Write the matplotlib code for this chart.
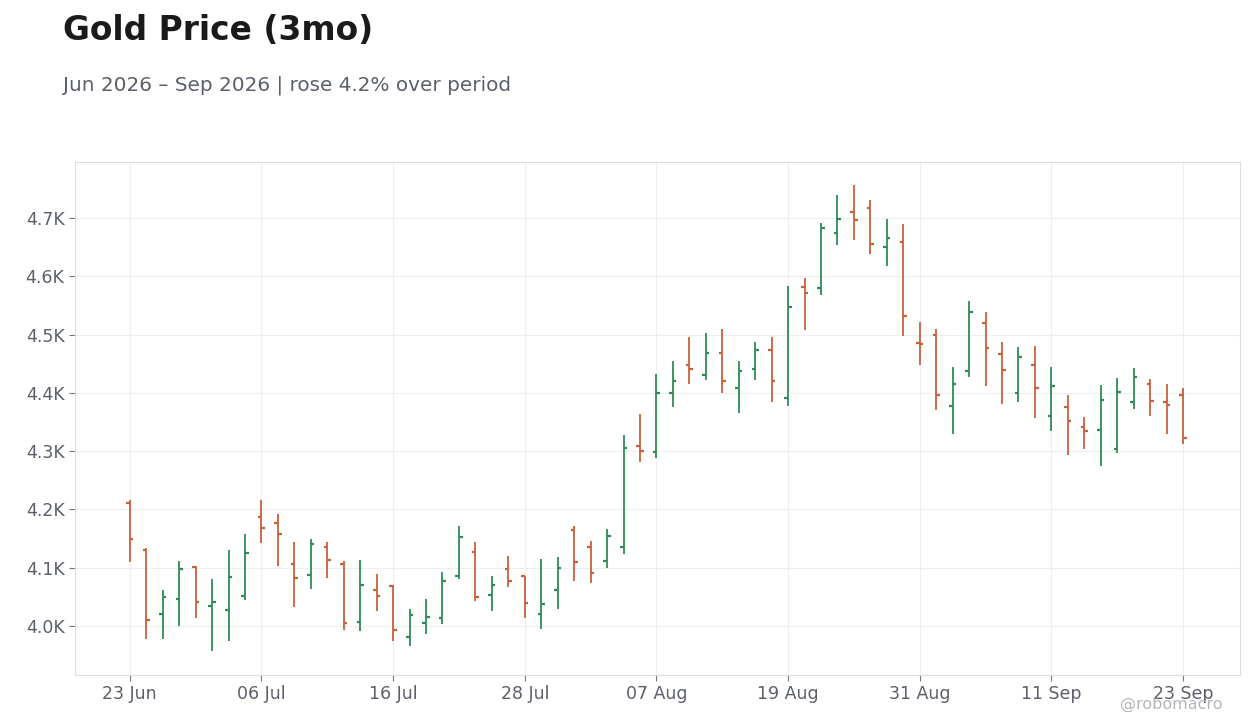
import matplotlib.pyplot as plt
from matplotlib.ticker import FuncFormatter
import numpy as np

# daily OHLC, trading days 23 Jun - 23 Sep 2026
opens = [4211, 4131, 4021, 4046, 4102, 4034, 4028, 4052, 4187, 4177,
         4107, 4088, 4136, 4107, 4007, 4061, 4069, 3982, 4006, 4014,
         4086, 4127, 4054, 4098, 4085, 4021, 4062, 4165, 4136, 4111,
         4135, 4308, 4299, 4400, 4448, 4431, 4469, 4409, 4441, 4474,
         4392, 4581, 4579, 4675, 4711, 4717, 4651, 4658, 4485, 4499,
         4377, 4437, 4520, 4466, 4400, 4448, 4361, 4376, 4342, 4336,
         4303, 4384, 4415, 4384, 4396]
highs = [4216, 4133, 4061, 4112, 4103, 4080, 4131, 4158, 4216, 4192,
         4144, 4149, 4144, 4111, 4113, 4089, 4071, 4029, 4046, 4093,
         4171, 4144, 4086, 4120, 4085, 4115, 4118, 4171, 4146, 4166,
         4328, 4364, 4432, 4454, 4495, 4502, 4509, 4454, 4487, 4495,
         4584, 4597, 4692, 4740, 4756, 4731, 4699, 4689, 4522, 4510,
         4444, 4558, 4538, 4488, 4478, 4480, 4445, 4397, 4359, 4414,
         4425, 4442, 4423, 4416, 4409]
lows = [4109, 3978, 3978, 4000, 4014, 3958, 3975, 4045, 4142, 4103,
        4033, 4064, 4083, 3994, 3992, 4025, 3975, 3965, 3987, 4003,
        4081, 4043, 4025, 4067, 4013, 3995, 4030, 4078, 4074, 4099,
        4123, 4282, 4289, 4375, 4416, 4422, 4400, 4366, 4422, 4385,
        4378, 4507, 4567, 4653, 4662, 4639, 4617, 4497, 4447, 4371,
        4330, 4427, 4412, 4381, 4385, 4356, 4334, 4294, 4303, 4274,
        4296, 4373, 4361, 4329, 4312]
closes = [4150, 4011, 4050, 4097, 4041, 4041, 4084, 4126, 4169, 4158,
          4082, 4141, 4114, 4006, 4071, 4051, 3994, 4019, 4016, 4078,
          4153, 4050, 4071, 4078, 4040, 4037, 4100, 4109, 4091, 4154,
          4306, 4301, 4400, 4421, 4441, 4469, 4421, 4437, 4474, 4421,
          4547, 4572, 4682, 4699, 4696, 4655, 4665, 4531, 4483, 4396,
          4415, 4539, 4477, 4439, 4461, 4408, 4411, 4352, 4334, 4388,
          4401, 4427, 4386, 4379, 4323]
tick_pos = [0, 8, 16, 24, 32, 40, 48, 56, 64]
tick_labels = ['23 Jun', '06 Jul', '16 Jul', '28 Jul', '07 Aug',
               '19 Aug', '31 Aug', '11 Sep', '23 Sep']

UP = '#2e8b57'
DOWN = '#c9603c'
TEXT = '#5a5f69'

fig = plt.figure(figsize=(12.6, 7.28), dpi=100)
ax = fig.add_axes([0.0595, 0.0728, 0.9245, 0.7047])

x = np.arange(len(opens))
o = np.array(opens)
c = np.array(closes)
colors = [UP if cc >= oo else DOWN for oo, cc in zip(o, c)]
tw = 0.22

ax.vlines(x, lows, highs, colors=colors, linewidth=1.3)
ax.hlines(o, x - tw, x, colors=colors, linewidth=1.6)
ax.hlines(c, x, x + tw, colors=colors, linewidth=1.6)

ax.set_xlim(-3.33, 67.45)
ax.set_ylim(3916, 4796)
ax.set_yticks([4000, 4100, 4200, 4300, 4400, 4500, 4600, 4700])
ax.yaxis.set_major_formatter(FuncFormatter(lambda v, p: f'{v/1000:.1f}K'))
ax.set_xticks(tick_pos)
ax.set_xticklabels(tick_labels)

ax.grid(True, color='#eeeeee', linewidth=0.8)
ax.set_axisbelow(True)
for s in ax.spines.values():
    s.set_color('#dddddd')
    s.set_linewidth(0.8)
ax.tick_params(colors='#777777', labelcolor=TEXT, labelsize=12.5,
               length=4, width=0.8)

fig.text(0.05, 0.958, 'Gold Price (3mo)', fontsize=23.7, fontweight='bold',
         color='#1a1a1a', va='center', ha='left')
fig.text(0.05, 0.883, 'Jun 2026 \u2013 Sep 2026 | rose 4.2% over period',
         fontsize=14.4, color=TEXT, va='center', ha='left')
# watermark sits over the last tick label, as in the original
fig.text(0.97, 0.032, '@robomacro', fontsize=11.5, color='#b5b5b5',
         ha='right', va='center')

fig.savefig('out.png', dpi=100)
